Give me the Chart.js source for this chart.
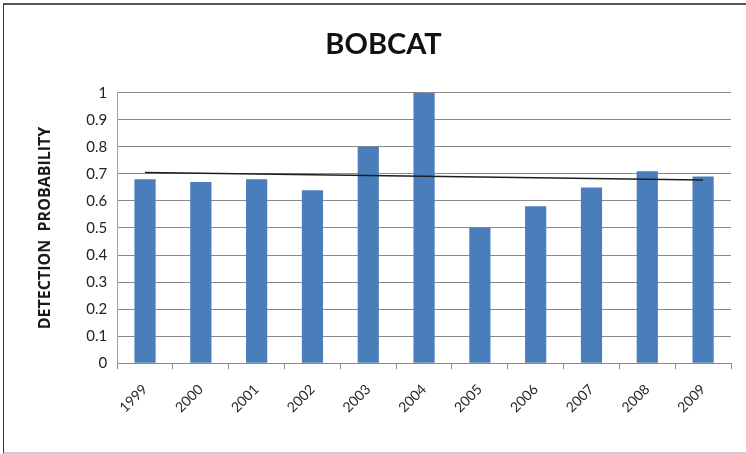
<!DOCTYPE html>
<html>
<head>
<meta charset="utf-8">
<title>Bobcat</title>
<script src="https://cdn.jsdelivr.net/npm/chart.js@4"></script>
<style>
    html, body {
        margin: 0;
        padding: 0;
        background: #fff;
    }

    .frame {
        position: absolute;
        left: 3px;
        top: 3px;
        width: 743px;
        height: 451px;
        box-sizing: border-box;
        border-top: 2px solid #555;
        border-left: 1px solid #333;
        border-bottom: 2px solid #cfcfcf;
    }

    .frame canvas {
        display: block;
    }
</style>
</head>
<body>

<div class="frame">
    <canvas id="bobcatChart" width="742" height="449"></canvas>
</div>

<script>
// -------------------------
// Data
// -------------------------
const years = ["1999","2000","2001","2002","2003","2004","2005","2006","2007","2008","2009"];

const detection = [0.68, 0.67, 0.68, 0.64, 0.80, 1.00, 0.50, 0.58, 0.65, 0.71, 0.69];

// linear trend, start and end (1999 -> 2009)
const trendYears = ["1999", "2009"];
const trendValues = [0.705, 0.677];

const yTicks = [0, 0.1, 0.2, 0.3, 0.4, 0.5, 0.6, 0.7, 0.8, 0.9, 1];

const FONT = "Lato, 'Open Sans', sans-serif";

// -------------------------
// Chart
// -------------------------
const ctx = document.getElementById("bobcatChart");

new Chart(ctx, {

    type: "bar",

    data: {
        labels: years,
        datasets: [
            {
                type: "line",
                label: "Trend",
                data: trendYears.map((y, i) => ({ x: y, y: trendValues[i] })),
                borderColor: "#1e1e1e",
                borderWidth: 1.5,
                pointRadius: 0,
                fill: false,
                order: 0
            },
            {
                label: "Detection probability",
                data: detection,
                backgroundColor: "#4a7ebb",
                borderWidth: 0,
                categoryPercentage: 1,
                barPercentage: 0.38,
                order: 1
            }
        ]
    },

    options: {
        responsive: false,
        animation: false,
        layout: {
            padding: { left: 32, right: 15, top: 0, bottom: 26 }
        },
        plugins: {
            legend: { display: false },
            tooltip: { enabled: false },
            title: {
                display: true,
                text: "BOBCAT",
                color: "#111",
                font: { family: FONT, size: 29, weight: "bold" },
                padding: { top: 22, bottom: 31 }
            }
        },
        scales: {
            x: {
                grid: {
                    display: true,
                    drawOnChartArea: false,
                    drawTicks: true,
                    tickLength: 6,
                    color: "#8a8a8a",
                    offset: true
                },
                border: { color: "#8a8a8a", width: 1 },
                ticks: {
                    color: "#2a2a2a",
                    font: { family: FONT, size: 14 },
                    minRotation: 45,
                    maxRotation: 45,
                    padding: 12
                }
            },
            y: {
                min: 0,
                max: 1,
                afterBuildTicks: axis => {
                    axis.ticks = yTicks.map(v => ({ value: v }));
                },
                grid: {
                    color: "#8a8a8a",
                    lineWidth: 1,
                    drawTicks: false
                },
                border: { color: "#a0a0a0", width: 1 },
                ticks: {
                    color: "#222",
                    font: { family: FONT, size: 15 },
                    padding: 10,
                    callback: v => (v === 0 || v === 1) ? String(v) : v.toFixed(1)
                },
                title: {
                    display: true,
                    text: "DETECTION  PROBABILITY",
                    color: "#1a1a1a",
                    font: { family: "'Open Sans', Lato, sans-serif", size: 16, weight: "bold" },
                    padding: { top: 0, bottom: 21 }
                }
            }
        }
    }

});
</script>
</body>
</html>
